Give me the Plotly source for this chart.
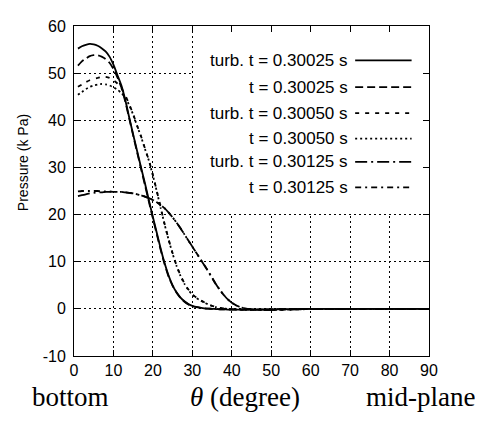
import plotly.graph_objects as go

theta = [1, 2, 3, 4, 5, 6, 7, 8, 9, 10, 11, 12, 13, 14, 15, 16, 17, 18, 19, 20,
         21, 22, 23, 24, 25, 26, 27, 28, 29, 30, 31, 32, 33, 34, 35, 36, 37, 38, 39, 40,
         41, 42, 43, 44, 46, 48, 50, 55, 60, 70, 80, 90]

turb_30025 = [55.2, 55.7, 56.0, 56.2, 56.1, 55.8, 55.3, 54.6, 53.5, 51.8,
              49.6, 47.4, 44.3, 40.6, 37.0, 33.5, 30.0, 26.6, 23.0, 19.5,
              16.1, 12.7, 9.6, 7.0, 5.0, 3.5, 2.4, 1.6, 1.0, 0.65,
              0.4, 0.25, 0.12, 0.05, 0.0, -0.05, -0.1, -0.12, -0.15, -0.15,
              -0.15, -0.15, -0.15, -0.15, -0.15, -0.12, -0.1, -0.05, 0, 0, 0, 0]
lam_30025 = [51.6, 52.5, 53.1, 53.6, 53.8, 53.8, 53.5, 53.0, 52.2, 50.9,
             49.1, 47.0, 44.0, 40.4, 36.8, 33.2, 29.7, 26.2, 22.7, 19.2,
             15.8, 12.4, 9.4, 6.8, 4.9, 3.4, 2.3, 1.5, 0.95, 0.6,
             0.38, 0.22, 0.1, 0.04, 0.0, -0.05, -0.1, -0.12, -0.15, -0.15,
             -0.15, -0.15, -0.15, -0.15, -0.15, -0.12, -0.1, -0.05, 0, 0, 0, 0]
turb_30050 = [47.1, 47.6, 48.1, 48.5, 48.8, 49.0, 49.2, 49.2, 49.0, 48.5,
              47.8, 46.8, 45.3, 43.4, 41.3, 38.9, 36.6, 34.0, 31.5, 28.4,
              25.0, 21.4, 17.9, 14.7, 11.8, 9.2, 7.1, 5.4, 4.1, 3.1,
              2.4, 1.85, 1.4, 1.0, 0.65, 0.38, 0.2, 0.08, 0.0, -0.05,
              -0.1, -0.15, -0.2, -0.2, -0.2, -0.18, -0.15, -0.08, 0, 0, 0, 0]
lam_30050 = [45.4, 46.0, 46.6, 47.1, 47.4, 47.6, 47.7, 47.6, 47.4, 47.0,
             46.5, 45.8, 44.8, 43.2, 41.2, 38.8, 36.5, 33.9, 31.4, 28.3,
             24.9, 21.3, 17.8, 14.6, 11.7, 9.1, 7.0, 5.3, 4.0, 3.0,
             2.3, 1.8, 1.35, 0.95, 0.6, 0.35, 0.18, 0.06, 0.0, -0.05,
             -0.1, -0.15, -0.2, -0.2, -0.2, -0.18, -0.15, -0.08, 0, 0, 0, 0]
turb_30125 = [23.9, 24.1, 24.3, 24.5, 24.6, 24.7, 24.7, 24.8, 24.8, 24.8,
              24.8, 24.8, 24.7, 24.6, 24.5, 24.3, 24.1, 23.8, 23.5, 23.1,
              22.6, 22.0, 21.3, 20.4, 19.4, 18.3, 17.1, 15.8, 14.5, 13.2,
              11.9, 10.6, 9.3, 8.0, 6.6, 5.2, 4.0, 2.9, 2.0, 1.3,
              0.8, 0.4, 0.15, 0.0, -0.2, -0.25, -0.25, -0.15, -0.05, 0, 0, 0]
lam_30125 = [24.9, 25.0, 25.0, 25.0, 25.0, 25.0, 24.9, 24.9, 24.9, 24.8,
             24.8, 24.8, 24.7, 24.6, 24.5, 24.3, 24.1, 23.8, 23.5, 23.1,
             22.6, 22.0, 21.3, 20.4, 19.4, 18.3, 17.1, 15.8, 14.5, 13.2,
             11.9, 10.6, 9.3, 8.0, 6.6, 5.2, 4.0, 2.9, 2.0, 1.3,
             0.8, 0.4, 0.15, 0.0, -0.2, -0.25, -0.25, -0.15, -0.05, 0, 0, 0]

series_names = ["turb. t = 0.30025 s", "t = 0.30025 s", "turb. t = 0.30050 s",
                "t = 0.30050 s", "turb. t = 0.30125 s", "t = 0.30125 s"]
series_values = [turb_30025, lam_30025, turb_30050, lam_30050, turb_30125, lam_30125]
dashes = ["solid", "8px,4px", "4px,6px", "2px,3px", "12px,4px,2px,4px", "6px,4px,2px,4px"]

x_ticks = [0, 10, 20, 30, 40, 50, 60, 70, 80, 90]
x_labels = ["0", "10", "20", "30", "40", "50", "60", "70", "80", "90"]
y_ticks = [-10, 0, 10, 20, 30, 40, 50, 60]
y_labels = ["-10", "0", "10", "20", "30", "40", "50", "60"]

fig = go.Figure()
for name, vals, d in zip(series_names, series_values, dashes):
    fig.add_trace(go.Scatter(x=theta, y=vals, mode="lines", name=name,
                             line=dict(color="black", width=1.8, dash=d,
                                       shape="spline", smoothing=0.5),
                             showlegend=False))

sans = "Liberation Sans, Arial, Helvetica, sans-serif"
serif = "Liberation Serif, Times New Roman, serif"

axis_common = dict(showline=True, linecolor="black", linewidth=1, mirror="ticks",
                   ticks="inside", ticklen=6, tickcolor="black",
                   showgrid=True, gridcolor="black", griddash="2px,3px", gridwidth=1,
                   zeroline=False, tickfont=dict(family=sans, size=16, color="black"))

fig.update_xaxes(range=[0, 90], tickvals=x_ticks, ticktext=x_labels, **axis_common)
fig.update_yaxes(range=[-10, 60], tickvals=y_ticks, ticktext=y_labels,
                 ticklabelstandoff=4, **axis_common)

# opaque key box (gnuplot style) covering grid lines
shapes = [dict(type="rect", xref="x", yref="y", x0=30.3, x1=90, y0=20.3, y1=60,
               fillcolor="white", line=dict(width=0), layer="between")]
annotations = []
row_y = [0.896, 0.815, 0.736, 0.659, 0.588, 0.511]
for name, d, ry in zip(series_names, dashes, row_y):
    annotations.append(dict(text=name, xref="paper", yref="paper", x=0.778, y=ry,
                            xanchor="right", yanchor="middle", showarrow=False,
                            font=dict(family=sans, size=17, color="black")))
    shapes.append(dict(type="line", xref="paper", yref="paper", x0=0.792, x1=0.951,
                       y0=ry, y1=ry, line=dict(color="black", width=1.8, dash=d)))

annotations.append(dict(text="Pressure (k Pa)", xref="paper", yref="paper",
                        x=-0.145, y=0.586, textangle=-90, showarrow=False,
                        xanchor="center", yanchor="middle",
                        font=dict(family=sans, size=14, color="black")))
for txt, xp in [("bottom", -0.01), ("<i>θ</i> (degree)", 0.482), ("mid-plane", 0.975)]:
    annotations.append(dict(text=txt, xref="paper", yref="paper", x=xp, y=-0.124,
                            xanchor="center", yanchor="middle", showarrow=False,
                            font=dict(family=serif, size=27, color="black")))

# page body has an 8px margin, so the figure is shrunk and shifted accordingly
fig.update_layout(width=475, height=422,
                  margin=dict(l=66, r=54, t=10, b=74),
                  paper_bgcolor="white", plot_bgcolor="white",
                  shapes=shapes, annotations=annotations)

fig.write_html("out.html")
